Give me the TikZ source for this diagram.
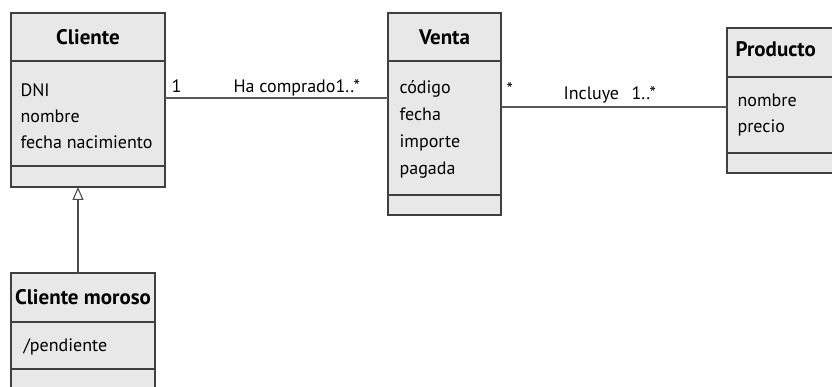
\documentclass[tikz,border=0pt]{standalone}
\usepackage{fontspec}
\setmainfont{PT Sans}
\usetikzlibrary{arrows.meta}

\begin{document}
\begin{tikzpicture}[x=1pt,y=-1pt,line width=1.2pt,
  part/.style={draw=black!75,fill=black!9,inner sep=0pt,outer sep=0pt,anchor=north west},
  title/.style={font=\bfseries\fontsize{21}{24}\selectfont},
  attr/.style={font=\fontsize{18}{22}\selectfont,inner sep=0pt,anchor=base west},
  link/.style={draw=black!65,line width=1.1pt},
  gen/.style={draw=black!70,line width=1.1pt,-{Triangle[open,width=11pt,length=13pt]}}]

\clip (0,0) rectangle (832,387);  % page size of the picture

% Cliente
\node[part,title,minimum width=154pt,minimum height=48pt] (cliente) at (11,13) {Cliente};
\node[part,minimum width=154pt,minimum height=105pt] (cliente-attr) at (11,61) {};
\node[part,minimum width=154pt,minimum height=21pt] (cliente-ops) at (11,166) {};
\foreach \t [count=\i] in {DNI,nombre,fecha nacimiento}
    \node[attr] (cliente-a\i) at (20,{71+26*\i}) {\t};

% Venta
\node[part,title,minimum width=113pt,minimum height=48pt] (venta) at (388,13) {Venta};
\node[part,minimum width=113pt,minimum height=134pt] (venta-attr) at (388,61) {};
\node[part,minimum width=113pt,minimum height=20pt] (venta-ops) at (388,195) {};
\foreach \t [count=\i] in {código,fecha,importe,pagada}
    \node[attr] (venta-a\i) at (399,{67.3+26.7*\i}) {\t};

% Producto
\node[part,minimum width=130pt,minimum height=49pt] (producto) at (727,28) {};
\node[part,minimum width=130pt,minimum height=76pt] (producto-attr) at (727,77) {};
\node[part,minimum width=130pt,minimum height=20pt] (producto-ops) at (727,153) {};
\node[title,inner sep=0pt,anchor=base west] (producto-title) at (735,57) {Producto};
\foreach \t [count=\i] in {nombre,precio}
    \node[attr] (producto-a\i) at (737,{81+26*\i}) {\t};

% Cliente moroso
\node[part,title,minimum width=144pt,minimum height=49pt] (moroso) at (11,273) {Cliente moroso};
\node[part,minimum width=144pt,minimum height=47pt] (moroso-attr) at (11,322) {};
\node[part,minimum width=144pt,minimum height=30pt] (moroso-ops) at (11,369) {};
\node[attr] (moroso-a1) at (23,351) {/pendiente};

% associations
\draw[link] (cliente-attr.east |- 0,98) -- (venta-attr.west |- 0,98);
\draw[link] (venta-attr.east |- 0,107) -- (producto-attr.west |- 0,107);
\node[attr] (m1) at (171,93) {1};
\node[attr] (ha) at (233,93) {Ha comprado1..*};
\node[attr] (m2) at (506,96) {*};
\node[attr] (incluye) at (563,100) {Incluye};
\node[attr] (m3) at (631,100) {1..*};

% generalization
\draw[gen] ([xshift=-5pt]moroso.north) -- ([xshift=-10pt]cliente-ops.south);

\end{tikzpicture}
\end{document}
